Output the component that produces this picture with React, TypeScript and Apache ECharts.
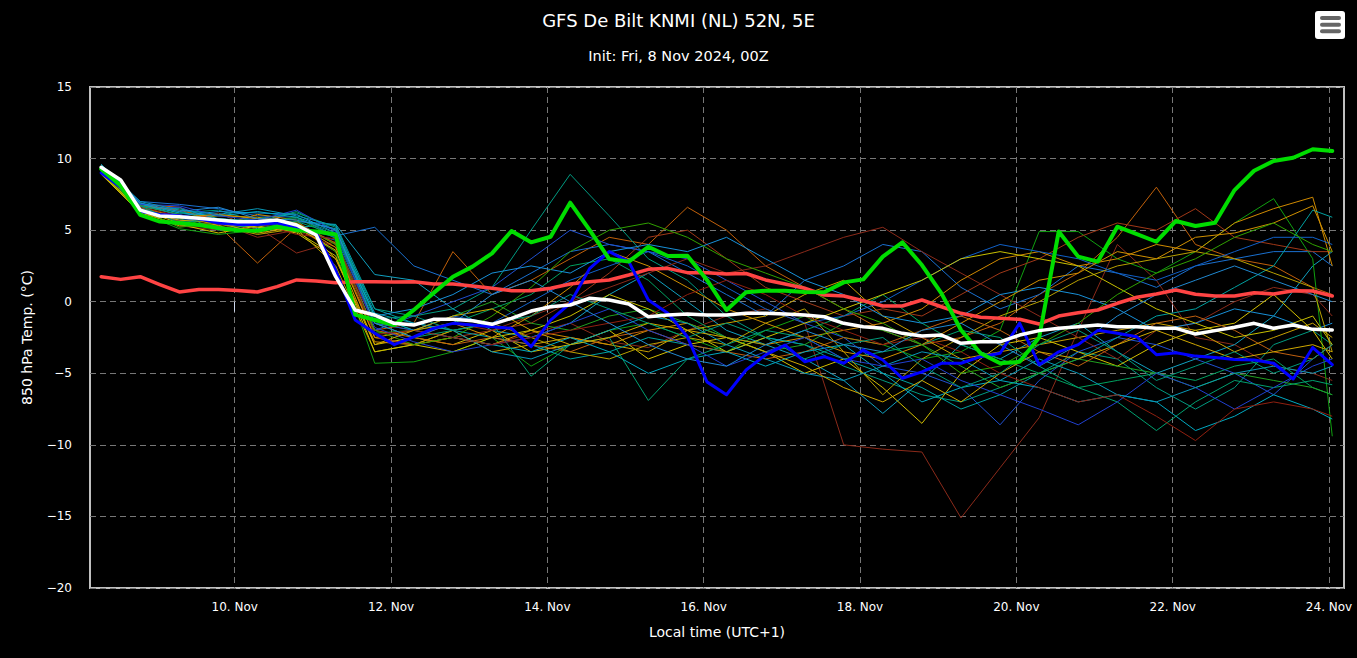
import React, { useEffect, useRef } from "react";
import * as echarts from "echarts";

// x = hours since 8 Nov 2024 00:00 local time (UTC+1)
const TITLE = "GFS De Bilt KNMI (NL) 52N, 5E";
const SUBTITLE = "Init: Fri, 8 Nov 2024, 00Z";
const Y_NAME = "850 hPa Temp. (°C)";
const X_NAME = "Local time (UTC+1)";

const dayTicks = [48, 96, 144, 192, 240, 288, 336, 384];
const dayLabels = ["10. Nov", "12. Nov", "14. Nov", "16. Nov", "18. Nov", "20. Nov", "22. Nov", "24. Nov"];

// 6-hourly times of the bold lines (07:00 local on 8 Nov to 01:00 on 24 Nov)
const mainHours = Array.from({ length: 64 }, (_, k) => 7 + 6 * k);
// 12-hourly sampling of the ensemble members (plus the final step)
const memberHours = [7, 19, 31, 43, 55, 67, 79, 91, 103, 115, 127, 139, 151, 163, 175, 187, 199, 211, 223, 235, 247, 259, 271, 283, 295, 307, 319, 331, 343, 355, 367, 379, 385];

const operational = [9.27, 8.1, 6.06, 5.6, 5.5, 5.36, 5.15, 5.0, 4.96, 5.24, 5.0, 4.9, 4.7, -0.9, -1.28, -1.63, -0.58, 0.6, 1.75, 2.45, 3.38, 4.94, 4.15, 4.54, 6.92, 5.0, 2.98, 2.8, 3.84, 3.19, 3.21, 1.52, -0.58, 0.66, 0.77, 0.77, 0.68, 0.66, 1.35, 1.56, 3.15, 4.15, 2.56, 0.58, -1.98, -3.6, -4.3, -4.2, -2.5, 4.9, 3.15, 2.8, 5.24, 4.73, 4.19, 5.64, 5.29, 5.52, 7.8, 9.15, 9.83, 10.06, 10.65, 10.53];
const control = [9.0, 8.0, 6.3, 6.1, 6.0, 5.8, 5.5, 5.4, 5.4, 5.5, 5.2, 4.8, 2.2, -1.28, -2.2, -3.0, -2.45, -1.86, -1.51, -1.63, -1.75, -1.86, -3.14, -1.28, -0.11, 2.33, 3.5, 2.8, 0.12, -0.81, -2.45, -5.6, -6.5, -4.77, -3.72, -3.03, -4.19, -3.84, -4.3, -3.38, -4.07, -5.35, -4.9, -4.3, -4.3, -3.84, -3.6, -1.5, -4.4, -3.5, -3.0, -2.0, -2.2, -2.45, -3.7, -3.56, -3.8, -3.9, -4.03, -4.07, -4.3, -5.4, -3.2, -4.4];
const ensMean = [9.39, 8.5, 6.4, 5.99, 5.94, 5.83, 5.71, 5.59, 5.59, 5.71, 5.36, 4.66, 1.75, -0.58, -0.93, -1.51, -1.63, -1.23, -1.23, -1.33, -1.58, -1.16, -0.65, -0.35, -0.23, 0.24, 0.12, -0.16, -1.05, -0.93, -0.86, -0.93, -0.93, -0.81, -0.81, -0.85, -0.93, -1.05, -1.51, -1.75, -1.86, -2.21, -2.4, -2.33, -2.91, -2.8, -2.8, -2.33, -2.02, -1.86, -1.75, -1.63, -1.75, -1.75, -1.86, -1.86, -2.26, -2.02, -1.79, -1.51, -1.86, -1.63, -1.93, -1.98];
const climate = [1.75, 1.56, 1.75, 1.2, 0.68, 0.86, 0.86, 0.78, 0.68, 1.05, 1.52, 1.45, 1.33, 1.4, 1.4, 1.38, 1.4, 1.24, 1.24, 1.1, 0.94, 0.77, 0.77, 0.94, 1.24, 1.4, 1.52, 1.87, 2.26, 2.33, 2.03, 2.03, 1.94, 1.97, 1.52, 1.24, 0.94, 0.47, 0.4, 0.07, -0.3, -0.3, 0.12, -0.35, -0.81, -1.09, -1.16, -1.23, -1.56, -1.0, -0.77, -0.58, -0.11, 0.31, 0.54, 0.82, 0.52, 0.4, 0.4, 0.63, 0.54, 0.77, 0.75, 0.4];

const m01 = [9.0, 6.3, 5.3, 5.0, 5.2, 3.4, 4.2, -1.5, -2.0, -2.5, -3.0, -2.2, -1.5, -2.8, -3.2, -2.0, -1.0, -0.5, -1.5, -10.0, -10.3, -10.5, -15.1, -11.6, -8.1, -2.0, 4.0, 1.5, -2.5, -3.0, -4.5, -5.0, -5.5];
const m02 = [9.1, 6.8, 6.6, 5.3, 2.7, 5.2, 3.5, -2.0, -1.5, 3.5, 0.5, 1.5, 3.0, 4.5, 4.0, 6.6, 5.0, 2.5, 1.0, -0.5, -2.0, -3.0, -2.5, -1.5, 0.5, 2.0, 4.5, 8.0, 4.0, 3.0, 2.5, 1.0, 0.5];
const m03 = [9.6, 6.9, 6.2, 6.4, 5.6, 6.3, 5.0, -0.5, -1.0, -0.5, 1.0, 5.0, 8.9, 6.0, 3.0, 1.5, -1.0, -2.5, -3.0, -4.5, -5.5, -6.5, -7.0, -6.0, -5.0, -3.5, -4.0, -6.0, -7.5, -6.0, -3.0, -2.0, -3.0];
const m04 = [9.4, 7.0, 6.8, 6.5, 6.0, 5.9, 4.6, 5.2, 2.5, 1.5, 0.5, 2.0, 3.5, 4.0, 3.5, 2.0, 0.5, -1.0, 1.5, 2.5, 4.0, 3.5, 1.0, -0.5, 0.5, 2.5, 2.0, 1.0, 2.5, 3.0, 3.5, 3.5, 2.5];
const m05 = [9.3, 6.6, 5.6, 5.8, 5.1, 5.6, 5.4, 1.9, 1.5, -0.5, -2.0, -2.5, -1.5, 0.5, 2.0, 0.0, -2.0, -3.0, -4.0, -5.5, -7.8, -5.5, -3.0, -4.0, -2.5, -1.5, -3.5, -5.0, -4.0, -3.0, -1.0, 2.5, 3.5];
const m06 = [9.0, 6.2, 5.1, 4.7, 5.0, 5.3, 3.5, -4.3, -4.2, -3.5, -2.5, -4.5, -3.0, -2.0, -1.5, -2.5, -3.5, -2.0, -1.0, -2.5, -3.0, -4.0, -3.5, -2.0, 4.9, 4.9, 3.0, 2.0, 3.5, 5.5, 7.2, 3.0, -9.4];
const m07 = [9.2, 6.4, 5.8, 6.0, 5.9, 5.5, 4.0, -2.5, -3.0, -2.0, -3.5, -3.0, -2.5, -3.0, -3.5, -2.0, -1.5, -1.0, 0.5, 1.5, -1.0, -2.5, -4.0, -3.5, -3.0, -2.5, -2.0, -1.5, -2.0, -3.5, -2.5, -1.5, -2.5];
const m08 = [8.9, 6.2, 5.4, 4.8, 5.3, 4.8, 3.0, -3.0, -2.5, -3.0, -2.0, -3.5, -3.0, -2.0, -4.0, -3.0, -2.5, -3.5, -5.0, -4.0, -6.0, -8.5, -5.0, -3.0, -2.5, -3.5, -4.5, -3.0, -2.0, -1.5, 0.5, -2.0, -4.0];
const m09 = [9.5, 6.8, 6.3, 5.6, 5.8, 6.2, 5.2, -1.0, -2.0, -1.5, -0.5, 0.5, 2.5, 3.0, 1.5, -1.0, -2.5, -3.0, -2.0, -1.0, 0.5, -1.5, -3.0, -4.0, -5.0, -6.0, -5.5, -5.0, -5.5, -4.5, -4.0, -6.0, -6.5];
const m10 = [9.1, 6.5, 6.6, 5.7, 5.4, 5.0, 4.3, -2.0, -1.0, 0.0, 1.0, 3.0, 5.0, 4.0, 3.5, 3.0, 1.5, 0.0, -1.5, -2.5, -4.5, -5.0, -6.0, -8.6, -5.5, -3.5, -2.5, -3.0, -4.0, -5.0, -6.5, -4.0, -3.0];
const m11 = [9.3, 6.6, 5.9, 5.5, 4.5, 5.0, 3.8, -1.5, -2.5, -1.5, -2.0, -1.0, 0.0, 1.0, 2.0, 3.0, 2.0, 2.5, 3.5, 4.5, 5.2, 3.5, 2.0, 0.5, -1.0, -2.5, -4.0, -2.0, -1.5, 0.0, 1.0, 0.5, -1.0];
const m12 = [9.0, 6.4, 5.6, 6.2, 5.0, 5.6, 4.0, -2.5, -3.0, -2.5, -2.0, -1.5, 0.0, 2.0, 4.5, 5.0, 3.0, 1.0, 0.0, -1.0, -0.5, -1.0, 0.5, 2.0, 3.0, 4.5, 5.5, 5.0, 6.5, 4.5, 4.0, 3.5, 3.5];
const m13 = [9.2, 6.7, 6.1, 5.3, 6.1, 5.7, 3.0, -2.8, -3.0, -2.5, -3.0, -2.0, -2.5, -3.0, -2.0, -1.5, -2.5, -3.0, -2.5, -2.0, -1.5, -0.5, 1.5, 3.0, 3.5, 2.5, 3.0, 4.0, 3.5, 5.5, 6.5, 7.3, 2.5];
const m14 = [9.4, 6.6, 6.5, 5.8, 5.6, 5.2, 5.4, -0.5, -1.5, -2.0, -2.5, -3.0, -4.0, -3.5, -2.5, -3.0, -3.5, -2.5, -3.0, -4.0, -5.0, -6.0, -7.5, -6.5, -5.0, -4.0, -2.5, -1.0, -0.5, 1.0, 2.5, 6.4, 5.9];
const m15 = [9.3, 6.9, 6.0, 6.3, 6.2, 6.1, 4.8, -1.0, -0.5, 0.5, 2.0, 2.5, 2.0, 3.5, 4.0, 3.5, 4.5, 3.0, 1.5, 0.5, -1.0, -1.5, -1.0, 0.5, 1.0, 0.5, -0.5, -2.0, -1.5, -0.5, -1.0, -2.0, -1.5];
const m16 = [9.0, 6.3, 5.3, 5.3, 4.7, 5.1, 2.5, -3.5, -3.0, -2.0, -1.5, -2.5, -3.5, -4.0, -3.0, -2.5, -3.0, -1.5, -0.5, -3.5, -6.5, -4.0, -2.5, -1.0, 0.0, 1.5, 2.5, 3.0, 3.5, 3.0, 2.0, 1.0, -3.5];
const m17 = [9.1, 6.5, 5.8, 5.1, 5.5, 5.9, 4.4, -2.2, -2.0, -1.0, 0.0, -1.5, -2.0, -1.0, -0.5, -1.5, -2.5, -3.5, -3.0, -1.5, -2.0, -3.0, -4.5, -6.0, -5.0, -4.0, -4.5, -5.0, -6.0, -5.0, -5.5, -6.0, -6.5];
const m18 = [9.3, 6.7, 6.4, 5.7, 4.9, 5.5, 4.1, -2.0, -2.5, -3.0, -2.5, -3.0, -3.5, -2.5, -2.0, -3.0, -3.5, -4.0, -3.5, -2.5, -3.0, -2.0, -1.0, -2.0, -3.5, -4.5, -3.0, -1.5, -1.0, -2.0, -3.5, -4.0, -3.0];
const m19 = [9.5, 6.8, 6.2, 6.0, 6.3, 5.9, 5.0, -1.0, -2.0, -2.5, -3.0, -3.5, -2.5, -3.5, -5.0, -4.0, -3.5, -4.5, -3.5, -3.0, -5.0, -7.0, -6.0, -5.5, -6.0, -7.0, -6.5, -7.0, -9.0, -8.0, -6.5, -7.5, -8.2];
const m20 = [9.2, 6.5, 5.7, 5.8, 5.6, 5.3, 4.5, -1.5, -2.0, -1.0, -1.5, 0.0, 1.5, 2.5, 3.5, 2.5, 1.0, -0.5, -1.5, -1.0, 0.0, 1.5, 3.0, 4.0, 3.5, 3.0, 2.0, 1.5, 2.5, 3.5, 4.5, 4.5, 4.0];
const m21 = [9.0, 6.4, 5.5, 5.4, 5.2, 4.9, 3.2, -3.5, -3.0, -3.5, -2.5, -2.0, -1.0, 0.5, -0.5, -2.0, -3.5, -2.5, -1.5, -0.5, 0.5, 1.5, 3.0, 3.5, 3.0, 2.5, 1.0, -0.5, -1.5, -2.5, -2.0, -1.0, -3.0];
const m22 = [9.4, 6.7, 6.1, 5.0, 5.4, 5.6, 4.7, -1.5, -2.5, -2.0, -1.5, -5.2, -3.0, -2.5, -6.9, -4.0, -3.0, -2.0, -2.5, -4.0, -3.5, -3.0, -2.0, -2.5, -4.5, -6.0, -7.0, -9.0, -7.0, -5.5, -6.0, -5.5, -5.8];
const m23 = [9.1, 6.6, 5.9, 6.1, 5.8, 5.4, 3.8, -2.5, -2.0, -1.5, -2.5, -1.0, 1.0, 3.5, 2.5, 1.0, -0.5, -1.5, -2.5, -3.5, -4.0, -3.0, -1.5, 0.0, 1.5, 2.0, 3.5, 3.0, 4.5, 4.8, 5.5, 6.7, 3.5];
const m24 = [9.3, 6.8, 6.7, 6.0, 5.7, 6.4, 4.9, -1.8, -2.8, -3.5, -3.0, -2.5, -1.5, -0.5, -2.0, -3.0, -4.5, -3.5, -2.5, -4.0, -4.5, -4.0, -5.5, -6.5, -7.5, -8.6, -7.0, -5.0, -6.0, -7.5, -6.0, -4.5, -4.0];
const m25 = [9.0, 6.5, 5.2, 5.5, 5.3, 5.5, 4.0, -2.0, -3.0, -2.5, -1.0, 1.0, 3.5, 5.0, 5.5, 4.5, 3.0, 2.0, 1.0, -0.5, -1.5, -3.0, -5.0, -4.5, -3.0, -1.5, 0.5, 2.0, 3.0, 4.5, 5.5, 4.0, 3.5];
const m26 = [9.6, 7.0, 6.4, 6.1, 6.5, 6.0, 5.3, -0.8, -1.5, -2.0, -3.5, -4.0, -3.0, -2.0, -1.0, -1.5, -3.0, -4.0, -5.0, -5.5, -4.5, -3.5, -4.0, -5.5, -4.0, -5.0, -6.5, -7.0, -6.0, -5.0, -4.5, -5.0, -4.5];
const m27 = [9.2, 6.6, 6.0, 5.4, 5.5, 4.7, 4.4, -2.3, -2.0, -2.5, -3.0, -2.5, -2.0, -1.5, -1.0, 0.5, 1.5, 0.5, -1.0, -2.0, -3.0, -2.5, -3.5, -5.0, -6.0, -7.0, -6.5, -8.0, -9.7, -7.5, -7.0, -7.5, -8.0];
const m28 = [9.0, 6.3, 5.7, 5.5, 4.8, 5.2, 3.6, -3.0, -2.0, -1.0, -0.5, -2.0, -3.0, -2.5, -1.5, -2.0, -2.5, -3.5, -4.5, -6.0, -7.0, -5.5, -7.0, -5.0, -3.5, -4.0, -3.0, -2.0, -3.0, -4.0, -3.5, -3.0, -3.5];
const m29 = [9.3, 6.7, 5.5, 5.8, 5.6, 5.8, 4.8, -1.2, -1.0, -2.0, -1.5, -1.0, 0.5, -0.5, -1.5, -2.5, -1.5, -2.5, -4.0, -3.0, -2.5, -4.5, -6.0, -5.0, -3.0, -2.0, -3.5, -5.5, -4.5, -3.5, -5.0, -4.0, -3.0];
const m30 = [9.4, 6.9, 6.3, 6.6, 5.8, 5.7, 5.1, -1.5, -2.5, -1.5, 0.5, 1.5, 0.0, -1.5, -3.0, -4.0, -4.5, -3.0, -2.0, -3.0, -3.5, -2.0, -1.5, -3.0, -4.5, -3.0, -1.0, 0.5, 1.5, 2.5, 1.5, 0.5, 0.0];

const members = [m01, m02, m03, m04, m05, m06, m07, m08, m09, m10, m11, m12, m13, m14, m15, m16, m17, m18, m19, m20, m21, m22, m23, m24, m25, m26, m27, m28, m29, m30];
const memberColors = [
  "#8b2a1a", "#c0600a", "#009a80", "#1a70d0", "#10a0c0", "#10a010", "#c8a000", "#d4c000", "#00a060", "#2050d0",
  "#8b2a1a", "#a03818", "#d08a00", "#00a0a0", "#1890d8", "#b8a000", "#20a020", "#c06010", "#00a8c0", "#1060c8",
  "#c8c000", "#00a070", "#d09000", "#2040d0", "#30a000", "#0898b8", "#902010", "#d0a800", "#00987a", "#2088d0",
];

const FONT = "DejaVu Sans, sans-serif";

export default function App() {
  const ref = useRef<HTMLDivElement>(null);

  useEffect(() => {
    document.body.style.margin = "0";
    document.body.style.background = "#000";
    const chart = echarts.init(ref.current!, null, { renderer: "svg" });

    const memberSeries = members.map((vals, i) => ({
      type: "line",
      name: "m" + (i + 1),
      data: vals.map((v, j) => [memberHours[j], v]),
      showSymbol: false,
      symbol: "none",
      lineStyle: { width: 1, color: memberColors[i], join: "round" },
      emphasis: { disabled: true },
      z: 2,
    }));

    const bold = (name: string, vals: number[], color: string, width: number, z: number) => ({
      type: "line",
      name,
      data: vals.map((v, j) => [mainHours[j], v]),
      showSymbol: false,
      symbol: "none",
      lineStyle: { width, color, join: "round", cap: "round" },
      emphasis: { disabled: true },
      z,
    });

    chart.setOption({
      animation: false,
      backgroundColor: "#000",
      textStyle: { fontFamily: FONT },
      title: [
        { text: TITLE, left: "center", top: 6, textStyle: { color: "#fff", fontSize: 18, fontWeight: "normal", fontFamily: FONT } },
        { text: SUBTITLE, left: "center", top: 43, textStyle: { color: "#fff", fontSize: 14.5, fontWeight: "normal", fontFamily: FONT } },
      ],
      grid: {
        left: 90, right: 13, top: 87, bottom: 70,
        show: true, backgroundColor: "#000", borderColor: "#c0c0c0", borderWidth: 2,
      },
      xAxis: {
        type: "value",
        min: 3.57,
        max: 388.6,
        name: X_NAME,
        nameLocation: "middle",
        nameGap: 37,
        nameTextStyle: { color: "#fff", fontSize: 14, fontFamily: FONT },
        axisLine: { show: false },
        axisTick: { show: true, customValues: dayTicks, length: 10, lineStyle: { color: "#ccd6eb" } },
        axisLabel: {
          customValues: dayTicks,
          color: "#fff",
          fontSize: 12,
          margin: 13,
          fontFamily: FONT,
          formatter: (v: number) => dayLabels[dayTicks.indexOf(Math.round(v))] ?? "",
        },
        splitLine: { show: true, lineStyle: { color: "#777", type: [6, 4], width: 1 } },
      },
      yAxis: {
        type: "value",
        min: -20,
        max: 15,
        interval: 5,
        name: Y_NAME,
        nameLocation: "middle",
        nameGap: 56,
        nameTextStyle: { color: "#fff", fontSize: 14, fontFamily: FONT },
        axisLine: { show: false },
        axisTick: { show: false },
        axisLabel: {
          color: "#fff",
          fontSize: 12,
          margin: 18,
          fontFamily: FONT,
          formatter: (v: number) => (v < 0 ? "\u2212" + Math.abs(v) : String(v)),
        },
        splitLine: { show: true, lineStyle: { color: "#777", type: [6, 4], width: 1 } },
      },
      graphic: [
        { type: "rect", shape: { x: 1315, y: 11, width: 30, height: 28, r: 3 }, style: { fill: "#fff" }, z: 100 },
        { type: "rect", shape: { x: 1320, y: 16, width: 21, height: 4, r: 2 }, style: { fill: "#666" }, z: 101 },
        { type: "rect", shape: { x: 1320, y: 22.7, width: 21, height: 4, r: 2 }, style: { fill: "#666" }, z: 101 },
        { type: "rect", shape: { x: 1320, y: 29.3, width: 21, height: 4, r: 2 }, style: { fill: "#666" }, z: 101 },
      ],
      series: [
        ...memberSeries,
        bold("Climate", climate, "#ff4444", 3.5, 3),
        bold("Control", control, "#0000ff", 3, 4),
        bold("Operational", operational, "#00dd00", 4, 5),
        bold("Mean", ensMean, "#ffffff", 3.5, 6),
      ],
    });

    return () => chart.dispose();
  }, []);

  return (
    <div
      ref={ref}
      style={{ position: "fixed", left: 0, top: 0, width: 1357, height: 658, background: "#000" }}
    />
  );
}
